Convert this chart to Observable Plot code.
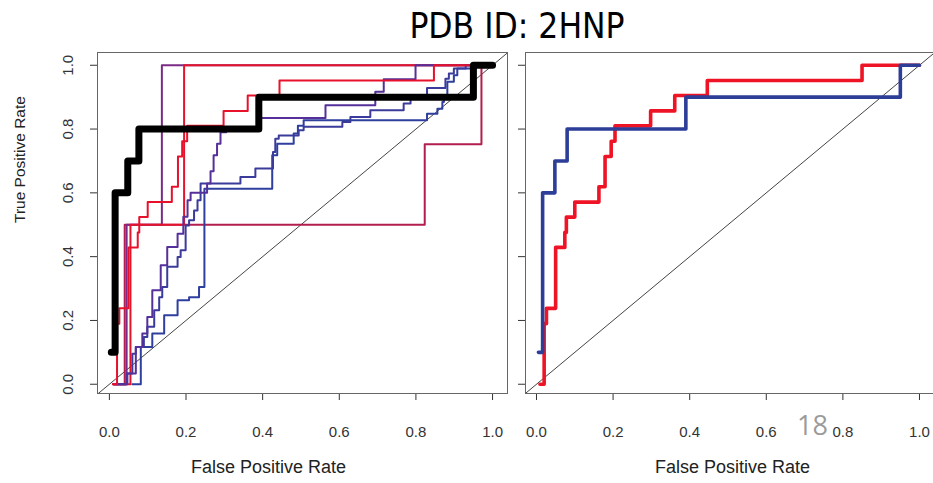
<!DOCTYPE html>
<html>
<head>
<meta charset="utf-8">
<script src="https://cdn.jsdelivr.net/npm/d3@7"></script>
<script src="https://cdn.jsdelivr.net/npm/@observablehq/plot@0.6"></script>
<style>
  body { margin: 0; background: #fff; }
  #wrap { position: relative; width: 933px; height: 483px; overflow: hidden; background: #fff; }
  #title {
    position: absolute; left: 0; top: 9px; width: 1034px; text-align: center;
    font-family: "Liberation Sans Narrow", "DejaVu Sans Condensed", sans-serif;
    font-size: 35px; color: #000; line-height: 1;
  }
  .panel { position: absolute; top: 0; }
  #pageno {
    position: absolute; left: 797px; top: 411px;
    font-family: "Liberation Sans Narrow", "Open Sans", sans-serif;
    font-size: 27px; color: #9b9b9b; line-height: 1;
  }
</style>
</head>
<body>
<div id="wrap">
  <div id="title">PDB ID: 2HNP</div>
  <div id="left" class="panel" style="left:0px"></div>
  <div id="right" class="panel" style="left:515px"></div>
  <div id="pageno">18</div>
</div>
<script>
// Axis ticks (both rates run from 0 to 1)
const xTicks = [0, 0.2, 0.4, 0.6, 0.8, 1.0];
const yTicks = [0, 0.2, 0.4, 0.6, 0.8, 1.0];

// ROC curves, [false positive rate, true positive rate] at each cutoff
const leftBlack = [[0.005,0.1],[0.015,0.1],[0.015,0.6],[0.048,0.6],[0.048,0.7],[0.077,0.7],[0.077,0.8],[0.39,0.8],[0.39,0.9],[0.95,0.9],[0.95,1.0],[1.0,1.0]];
const leftRed = [[0.009,0],[0.02,0],[0.02,0.19],[0.026,0.19],[0.026,0.238],[0.05,0.238],[0.05,0.429],[0.074,0.429],[0.074,0.476],[0.078,0.476],[0.078,0.524],[0.1,0.524],[0.1,0.571],[0.163,0.571],[0.163,0.619],[0.179,0.619],[0.179,0.714],[0.19,0.714],[0.19,0.762],[0.203,0.762],[0.203,0.81],[0.298,0.81],[0.298,0.857],[0.361,0.857],[0.361,0.905],[0.444,0.905],[0.444,0.952],[0.847,0.952],[0.847,1.0],[1.0,1.0]];
const leftRed2 = [[0.012,0],[0.055,0],[0.055,0.5],[0.195,0.5],[0.195,1.0],[1.0,1.0]];
const leftPurple = [[0.01,0],[0.045,0],[0.045,0.5],[0.137,0.5],[0.137,1.0],[1.0,1.0]];
const leftCrimson = [[0.01,0],[0.04,0],[0.04,0.5],[0.823,0.5],[0.823,0.752],[0.971,0.752],[0.971,1.0],[1.0,1.0]];
const leftIndigo = [[0.01,0],[0.047,0],[0.047,0.034],[0.069,0.034],[0.069,0.117],[0.086,0.117],[0.086,0.159],[0.099,0.159],[0.099,0.211],[0.112,0.211],[0.112,0.295],[0.134,0.295],[0.134,0.373],[0.151,0.373],[0.151,0.43],[0.178,0.43],[0.178,0.472],[0.193,0.472],[0.193,0.525],[0.204,0.525],[0.204,0.577],[0.212,0.577],[0.212,0.6],[0.255,0.6],[0.255,0.629],[0.264,0.629],[0.264,0.668],[0.272,0.668],[0.272,0.718],[0.281,0.718],[0.281,0.754],[0.29,0.754],[0.29,0.79],[0.305,0.79],[0.305,0.8],[0.394,0.8],[0.394,0.835],[0.564,0.835],[0.564,0.875],[0.694,0.875],[0.694,0.917],[0.716,0.917],[0.716,0.956],[0.799,0.956],[0.799,1.0],[1.0,1.0]];
const leftBlue1 = [[0.015,0],[0.045,0],[0.045,0.034],[0.06,0.034],[0.06,0.096],[0.069,0.096],[0.069,0.117],[0.09,0.117],[0.09,0.148],[0.099,0.148],[0.099,0.18],[0.117,0.18],[0.117,0.232],[0.13,0.232],[0.13,0.273],[0.138,0.273],[0.138,0.305],[0.151,0.305],[0.151,0.368],[0.178,0.368],[0.178,0.399],[0.186,0.399],[0.186,0.42],[0.199,0.42],[0.199,0.498],[0.208,0.498],[0.208,0.514],[0.221,0.514],[0.221,0.545],[0.23,0.545],[0.23,0.577],[0.238,0.577],[0.238,0.629],[0.342,0.629],[0.342,0.65],[0.381,0.65],[0.381,0.676],[0.427,0.676],[0.427,0.728],[0.433,0.728],[0.433,0.77],[0.442,0.77],[0.442,0.78],[0.494,0.78],[0.494,0.796],[0.507,0.796],[0.507,0.807],[0.608,0.807],[0.608,0.822],[0.629,0.822],[0.629,0.838],[0.681,0.838],[0.681,0.859],[0.768,0.859],[0.768,0.88],[0.786,0.88],[0.786,0.896],[0.829,0.896],[0.829,0.929],[0.877,0.929],[0.877,0.958],[0.886,0.958],[0.886,0.974],[0.899,0.974],[0.899,0.99],[0.93,0.99],[0.93,1.0],[1.0,1.0]];
const leftBlue2 = [[0.06,0],[0.082,0],[0.082,0.117],[0.112,0.117],[0.112,0.159],[0.143,0.159],[0.143,0.216],[0.178,0.216],[0.178,0.263],[0.208,0.263],[0.208,0.273],[0.234,0.273],[0.234,0.305],[0.248,0.305],[0.248,0.613],[0.425,0.613],[0.425,0.718],[0.438,0.718],[0.438,0.754],[0.481,0.754],[0.481,0.786],[0.492,0.786],[0.492,0.81],[0.507,0.81],[0.507,0.828],[0.829,0.828],[0.829,0.848],[0.856,0.848],[0.856,0.864],[0.869,0.864],[0.869,0.885],[0.873,0.885],[0.873,0.906],[0.882,0.906],[0.882,0.948],[0.899,0.948],[0.899,0.969],[0.908,0.969],[0.908,0.99],[0.95,0.99],[0.95,1.0],[1.0,1.0]];

const rightRed = [[0.009,0],[0.02,0],[0.02,0.19],[0.026,0.19],[0.026,0.238],[0.05,0.238],[0.05,0.429],[0.074,0.429],[0.074,0.476],[0.078,0.476],[0.078,0.524],[0.1,0.524],[0.1,0.571],[0.163,0.571],[0.163,0.619],[0.179,0.619],[0.179,0.714],[0.195,0.714],[0.195,0.762],[0.205,0.762],[0.205,0.81],[0.298,0.81],[0.298,0.857],[0.361,0.857],[0.361,0.905],[0.446,0.905],[0.446,0.952],[0.85,0.952],[0.85,1.0],[1.0,1.0]];
const rightBlue = [[0.005,0.1],[0.016,0.1],[0.016,0.6],[0.048,0.6],[0.048,0.7],[0.08,0.7],[0.08,0.8],[0.39,0.8],[0.39,0.9],[0.95,0.9],[0.95,1.0],[1.0,1.0]];

const fmt = d3.format(".1f");
const yDomain = [-0.029, 1.04];

function rocPanel({width, marginLeft, marginRight, xDomain, showYLabels, xLabelShift, curves}) {
  // abline(0, 1), clipped to the plotting box
  const lo = Math.max(xDomain[0], yDomain[0]);
  const hi = Math.min(xDomain[1], yDomain[1]);
  return Plot.plot({
    width, height: 483,
    marginTop: 52, marginBottom: 90, marginLeft, marginRight,
    style: {background: "transparent", fontFamily: "'Liberation Sans', Arial, sans-serif", fontSize: "15px", color: "#333"},
    x: {domain: xDomain, ticks: xTicks, tickSize: 7, tickPadding: 26, tickFormat: fmt, label: null},
    y: {domain: yDomain, ticks: yTicks, tickSize: 7, tickPadding: 18, tickRotate: -90,
        tickFormat: showYLabels ? fmt : () => "", label: null},
    marks: [
      Plot.line([[lo, lo], [hi, hi]], {stroke: "#444", strokeWidth: 1}),
      ...curves.map(c => Plot.line(c.data, {
        stroke: c.color, strokeWidth: c.width,
        strokeLinejoin: "round", strokeLinecap: "round"
      })),
      Plot.frame({stroke: "#666", strokeWidth: 1}),
      Plot.text(["False Positive Rate"], {frameAnchor: "bottom", dx: xLabelShift, dy: 79, fontSize: 18, fill: "#222"}),
      showYLabels ? Plot.text(["True Positive Rate"], {frameAnchor: "left", dx: -77, rotate: -90, fontSize: 15.5, fill: "#222"}) : null
    ]
  });
}

document.getElementById("left").append(rocPanel({
  width: 515, marginLeft: 97, marginRight: 8,
  xDomain: [-0.031, 1.039], showYLabels: true, xLabelShift: -34,
  curves: [
    {data: leftCrimson, color: "#b21f4e", width: 2},
    {data: leftPurple, color: "#7b2b87", width: 2},
    {data: leftRed2, color: "#e5142d", width: 2},
    {data: leftBlue2, color: "#2f3f9e", width: 2},
    {data: leftBlue1, color: "#3b3b9c", width: 2},
    {data: leftIndigo, color: "#56309a", width: 2},
    {data: leftRed, color: "#e8112c", width: 2},
    {data: leftBlack, color: "#000000", width: 7}
  ]
}));

document.getElementById("right").append(rocPanel({
  width: 418, marginLeft: 10, marginRight: 0,
  xDomain: [-0.0287, 1.0366], showYLabels: false, xLabelShift: 3,
  curves: [
    {data: rightRed, color: "#ee1426", width: 3.6},
    {data: rightBlue, color: "#2d3e98", width: 3.6}
  ]
}));
</script>
</body>
</html>
